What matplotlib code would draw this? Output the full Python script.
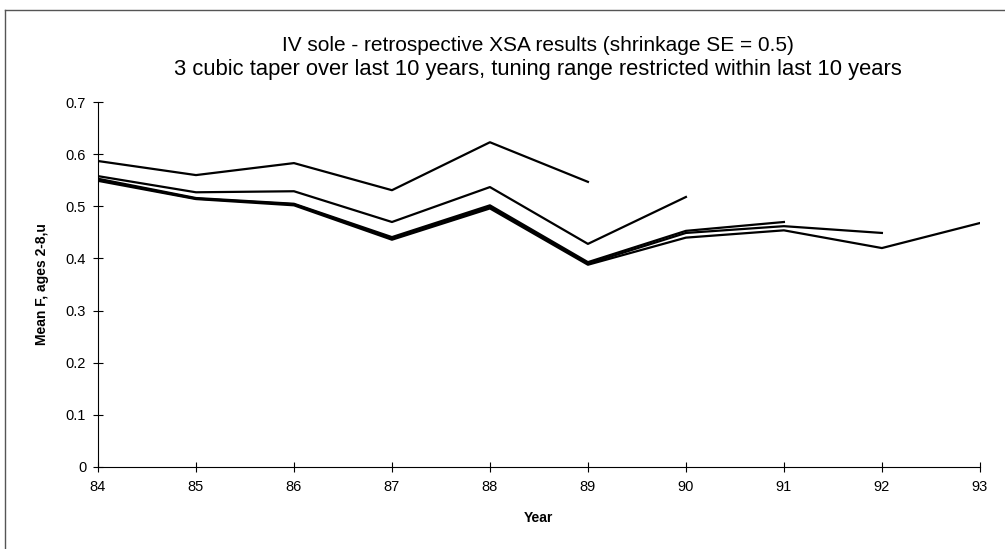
import matplotlib
matplotlib.use('agg')
import matplotlib.pyplot as plt
from matplotlib.lines import Line2D

plt.rcParams['font.family'] = ['Liberation Sans', 'DejaVu Sans']

# retrospective runs, each ending one year later
years = [84, 85, 86, 87, 88, 89, 90, 91, 92, 93]
run_89 = [0.587, 0.560, 0.583, 0.531, 0.623, 0.547]
run_90 = [0.558, 0.527, 0.529, 0.470, 0.537, 0.428, 0.518]
run_91 = [0.553, 0.516, 0.505, 0.441, 0.502, 0.393, 0.453, 0.470]
run_92 = [0.551, 0.515, 0.504, 0.439, 0.499, 0.390, 0.449, 0.462, 0.449]
run_93 = [0.549, 0.514, 0.502, 0.436, 0.496, 0.388, 0.440, 0.454, 0.420, 0.468]
runs = [run_89, run_90, run_91, run_92, run_93]

fig = plt.figure(figsize=(10.05, 5.49), dpi=100)
ax = fig.add_axes([0.0975, 0.1494, 0.8775, 0.6646])

for r in runs:
    ax.plot(years[:len(r)], r, color='black', lw=1.6)

ax.set_xlim(84, 93)
ax.set_ylim(0, 0.7)
ax.set_xticks(years)
ax.set_xticklabels([str(y) for y in years])
ax.set_yticks([0, 0.1, 0.2, 0.3, 0.4, 0.5, 0.6, 0.7])
ax.set_yticklabels(['0', '0.1', '0.2', '0.3', '0.4', '0.5', '0.6', '0.7'])
ax.tick_params(direction='inout', length=7, width=0.8, labelsize=10.5)
ax.tick_params(axis='x', pad=6)
ax.tick_params(axis='y', pad=5)
for s in ['top', 'right']:
    ax.spines[s].set_visible(False)

ax.set_xlabel('Year', fontsize=10, fontweight='bold', labelpad=12)
ax.set_ylabel('Mean F, ages 2-8,u', fontsize=10, fontweight='bold', labelpad=12)

fig.text(0.535, 0.918, 'IV sole - retrospective XSA results (shrinkage SE = 0.5)',
         ha='center', va='center', fontsize=15)
fig.text(0.535, 0.874, '3 cubic taper over last 10 years, tuning range restricted within last 10 years',
         ha='center', va='center', fontsize=15.8)

# page frame from the scanned original
fig.add_artist(Line2D([0.005, 1.0], [0.981, 0.981], color='#555555', lw=1.0))
fig.add_artist(Line2D([0.005, 0.005], [0.0, 0.981], color='#555555', lw=1.0))

fig.savefig('out.png', dpi=100)
